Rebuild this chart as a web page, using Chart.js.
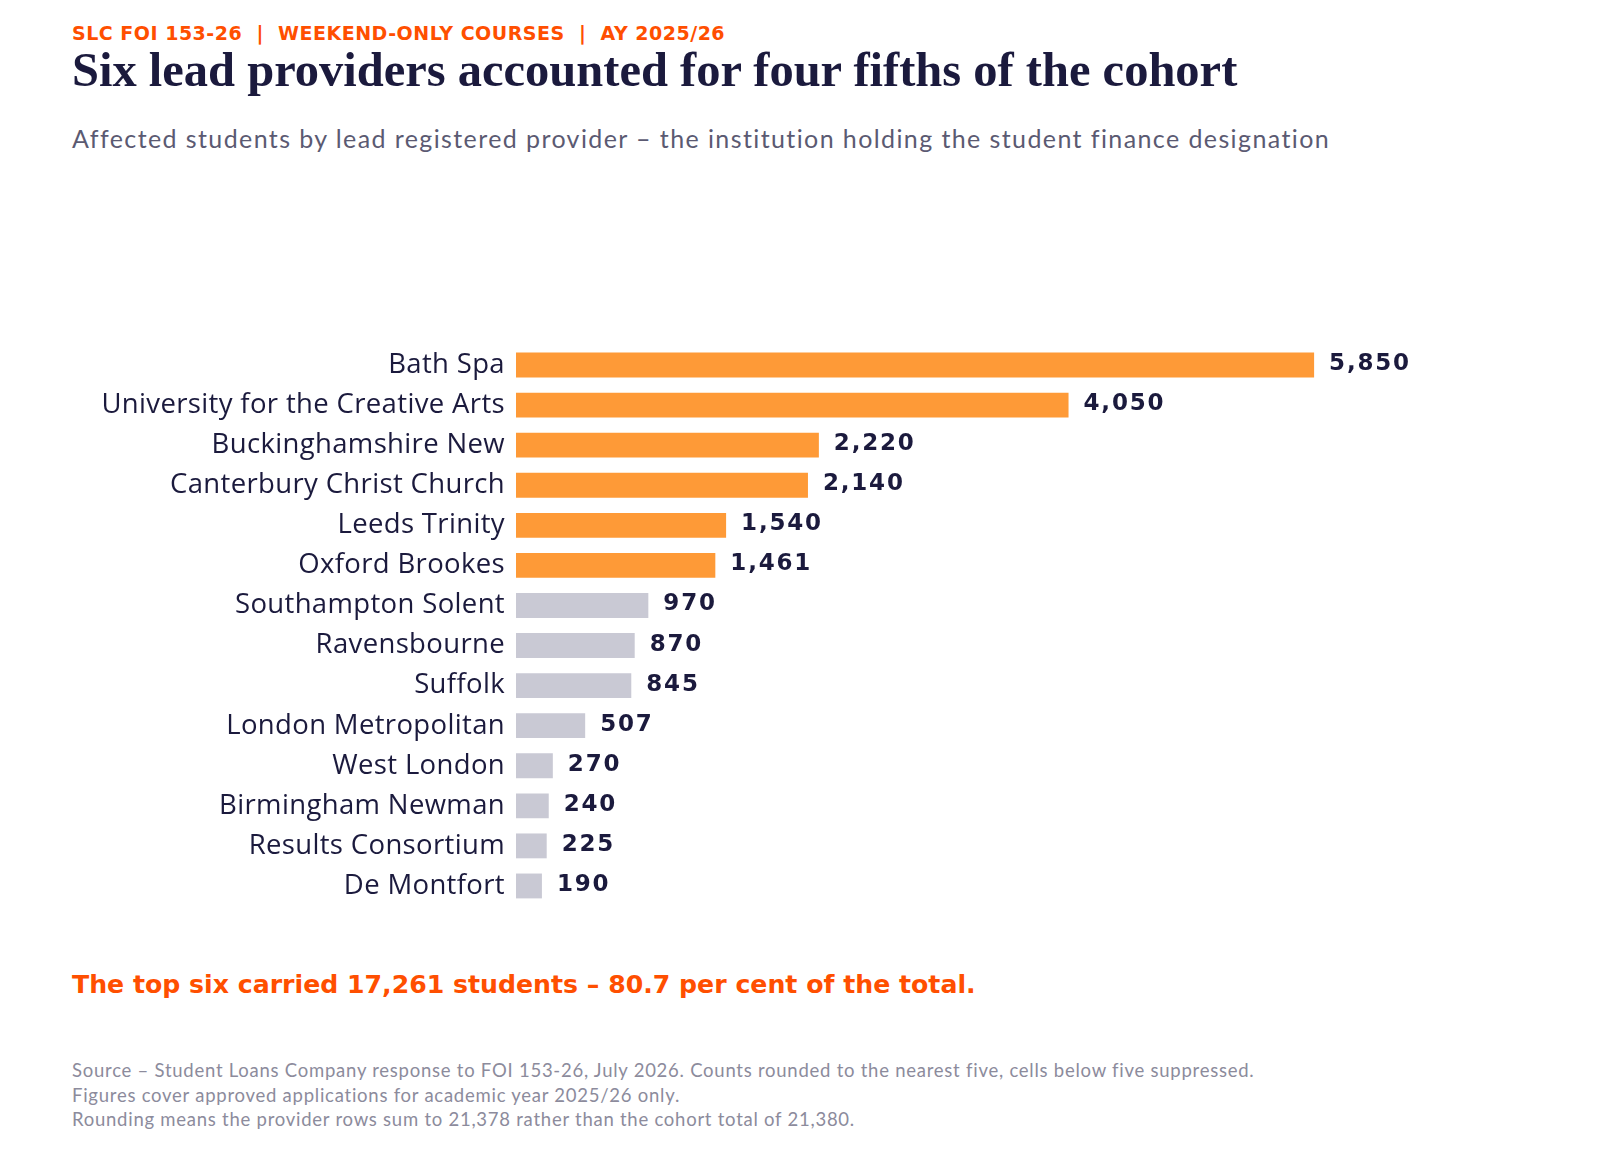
<!DOCTYPE html>
<html>
<head>
<meta charset="utf-8">
<script src="https://cdn.jsdelivr.net/npm/chart.js@4"></script>
<style>
  html, body { margin: 0; padding: 0; background: #ffffff; }
  body { width: 1600px; height: 1150px; position: relative; overflow: hidden; font-family: Lato, "Open Sans", sans-serif; }
  .kicker { position: absolute; left: 72px; top: 22px; font: 700 19px "DejaVu Sans", sans-serif; letter-spacing: 0.5px; color: #ff4f00; white-space: nowrap; }
  .title { position: absolute; left: 72px; top: 42px; font: 700 48.5px "Liberation Serif", serif; color: #1b1a3d; white-space: nowrap; }
  .subtitle { position: absolute; left: 72px; top: 123px; font: 400 25px Lato, sans-serif; letter-spacing: 1.4px; color: #5b5a72; white-space: nowrap; }
  .highlight { position: absolute; left: 72px; top: 970px; font: 700 25.2px "DejaVu Sans", sans-serif; color: #ff4f00; white-space: nowrap; }
  .notes { position: absolute; left: 72px; top: 1058px; font: 400 18.5px Lato, sans-serif; letter-spacing: 0.75px; color: #8c8b9c; line-height: 24.5px; white-space: nowrap; }
  #wrap { position: absolute; left: 0; top: 335px; width: 1600px; height: 581px; }
</style>
</head>
<body>
<div class="kicker">SLC FOI 153-26 &nbsp;|&nbsp; WEEKEND-ONLY COURSES &nbsp;|&nbsp; AY 2025/26</div>
<div class="title">Six lead providers accounted for four fifths of the cohort</div>
<div class="subtitle">Affected students by lead registered provider – the institution holding the student finance designation</div>
<div id="wrap"><canvas id="c"></canvas></div>
<div class="highlight">The top six carried 17,261 students – 80.7 per cent of the total.</div>
<div class="notes">Source – Student Loans Company response to FOI 153-26, July 2026. Counts rounded to the nearest five, cells below five suppressed.<br>Figures cover approved applications for academic year 2025/26 only.<br>Rounding means the provider rows sum to 21,378 rather than the cohort total of 21,380.</div>
<script>
const providers = [
  "Bath Spa", "University for the Creative Arts", "Buckinghamshire New",
  "Canterbury Christ Church", "Leeds Trinity", "Oxford Brookes",
  "Southampton Solent", "Ravensbourne", "Suffolk", "London Metropolitan",
  "West London", "Birmingham Newman", "Results Consortium", "De Montfort"
];
const students = [5850, 4050, 2220, 2140, 1540, 1461, 970, 870, 845, 507, 270, 240, 225, 190];
const topSixCount = 6;

const ORANGE = "#fe9a37";
const GREY = "#c9c9d4";
const NAVY = "#1b1a3d";

const barColors = students.map((v, i) => i < topSixCount ? ORANGE : GREY);

const labelSpacing = {
  id: "labelSpacing",
  beforeDraw(chart) {
    if ("letterSpacing" in chart.ctx) chart.ctx.letterSpacing = "0.35px";
  },
  afterDraw(chart) {
    if ("letterSpacing" in chart.ctx) chart.ctx.letterSpacing = "0px";
  }
};

const valueLabels = {
  id: "valueLabels",
  afterDatasetsDraw(chart) {
    const ctx = chart.ctx;
    const meta = chart.getDatasetMeta(0);
    ctx.save();
    ctx.font = "bold 23px 'DejaVu Sans', sans-serif";
    if ("letterSpacing" in ctx) ctx.letterSpacing = "1.8px";
    ctx.fillStyle = NAVY;
    ctx.textAlign = "left";
    ctx.textBaseline = "middle";
    meta.data.forEach((bar, i) => {
      ctx.fillText(students[i].toLocaleString("en-GB"), bar.x + 15, bar.y - 1);
    });
    ctx.restore();
  }
};

new Chart(document.getElementById("c"), {
  type: "bar",
  data: {
    labels: providers,
    datasets: [{
      data: students,
      backgroundColor: barColors,
      borderWidth: 0,
      barPercentage: 0.62,
      categoryPercentage: 1.0
    }]
  },
  options: {
    indexAxis: "y",
    responsive: true,
    maintainAspectRatio: false,
    animation: false,
    layout: { padding: { top: 10, bottom: 10, left: 0, right: 129 } },
    plugins: { legend: { display: false }, tooltip: { enabled: false } },
    scales: {
      x: {
        display: false,
        min: 0,
        max: 7000
      },
      y: {
        afterFit(scale) { scale.width = 516; scale.paddingTop = 0; scale.paddingBottom = 0; },
        grid: { display: false, drawTicks: false },
        border: { display: false },
        ticks: {
          padding: 11,
          color: NAVY,
          font: { family: "'Open Sans', sans-serif", size: 27.5 }
        }
      }
    }
  },
  plugins: [labelSpacing, valueLabels]
});
</script>
</body>
</html>
